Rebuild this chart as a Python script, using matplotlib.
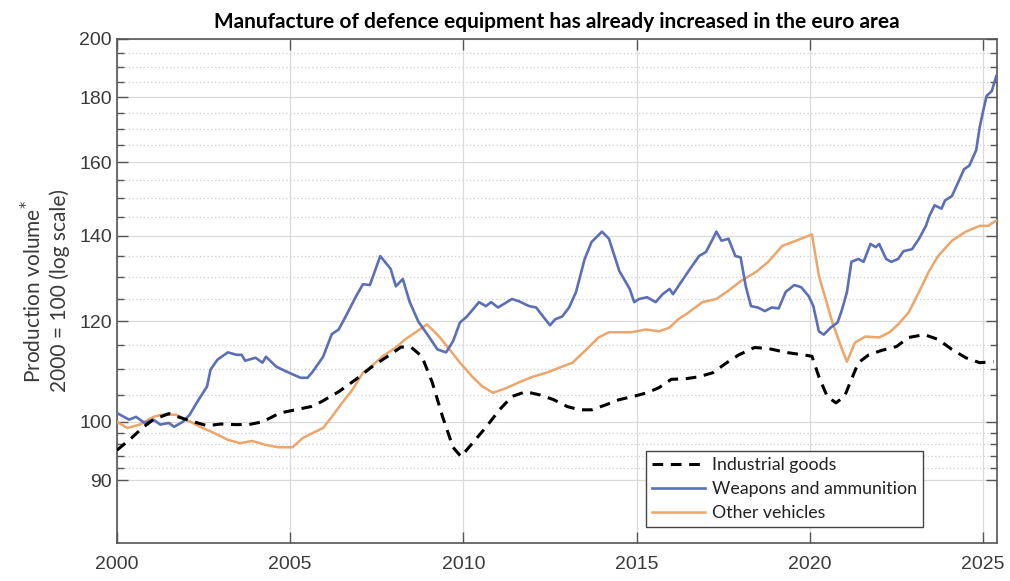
import numpy as np
import matplotlib
matplotlib.use("Agg")
import matplotlib.pyplot as plt
from matplotlib.ticker import FixedLocator, NullFormatter, FixedFormatter

# --- data (index, 2000 = 100) ---
ind_year = [2000.0, 2000.4, 2000.75, 2001.05, 2001.5, 2002.0, 2002.6, 2003.0, 2003.4, 2003.8,
            2004.2, 2004.7, 2005.0, 2005.6, 2005.9, 2006.4, 2006.9, 2007.4, 2007.9, 2008.2,
            2008.5, 2008.8, 2009.1, 2009.4, 2009.7, 2009.93, 2010.26, 2010.66, 2011.04, 2011.4,
            2011.8, 2012.2, 2012.6, 2013.0, 2013.35, 2013.7, 2014.1, 2014.5, 2014.9, 2015.3,
            2015.65, 2016.0, 2016.4, 2016.8, 2017.2, 2017.6, 2017.95, 2018.4, 2018.8, 2019.3,
            2019.8, 2020.06, 2020.26, 2020.5, 2020.75, 2021.0, 2021.2, 2021.4, 2021.7, 2022.07,
            2022.5, 2022.85, 2023.3, 2023.7, 2024.1, 2024.5, 2024.9, 2025.3]
ind_value = [95.0, 97.0, 99.0, 100.4, 101.5, 100.4, 99.3, 99.6, 99.5, 99.5,
             100.0, 101.6, 102.0, 102.8, 103.7, 105.6, 108.0, 110.7, 113.0, 114.5,
             114.4, 112.6, 107.4, 100.9, 95.5, 93.9, 96.2, 99.1, 102.2, 104.7,
             105.6, 105.0, 104.1, 102.8, 102.2, 102.2, 103.1, 104.1, 104.7, 105.4,
             106.4, 108.0, 108.1, 108.5, 109.3, 111.3, 112.9, 114.4, 114.2, 113.4,
             112.9, 112.6, 108.5, 104.7, 103.5, 104.7, 108.0, 111.3, 112.9, 113.8,
             114.6, 116.5, 117.1, 116.1, 114.0, 112.3, 111.3, 111.5]

wpn_year = [2000.0, 2000.35, 2000.55, 2000.8, 2001.05, 2001.25, 2001.5, 2001.65, 2001.9, 2002.1,
            2002.3, 2002.6, 2002.7, 2002.9, 2003.2, 2003.45, 2003.6, 2003.7, 2004.0, 2004.2,
            2004.3, 2004.6, 2004.9, 2005.3, 2005.5, 2005.65, 2005.95, 2006.2, 2006.4, 2006.6,
            2006.9, 2007.1, 2007.3, 2007.6, 2007.9, 2008.05, 2008.25, 2008.45, 2008.7, 2009.0,
            2009.25, 2009.5, 2009.7, 2009.9, 2010.1, 2010.45, 2010.65, 2010.8, 2011.0, 2011.4,
            2011.6, 2011.9, 2012.1, 2012.3, 2012.5, 2012.65, 2012.85, 2013.05, 2013.25, 2013.5,
            2013.7, 2014.0, 2014.2, 2014.5, 2014.8, 2014.93, 2015.07, 2015.3, 2015.55, 2015.75,
            2015.95, 2016.05, 2016.3, 2016.5, 2016.8, 2017.0, 2017.2, 2017.3, 2017.45, 2017.65,
            2017.85, 2018.0, 2018.15, 2018.3, 2018.5, 2018.7, 2018.9, 2019.1, 2019.3, 2019.55,
            2019.75, 2019.97, 2020.1, 2020.26, 2020.4, 2020.6, 2020.8, 2020.93, 2021.07, 2021.2,
            2021.4, 2021.55, 2021.75, 2021.9, 2022.0, 2022.2, 2022.35, 2022.55, 2022.7, 2022.95,
            2023.15, 2023.35, 2023.45, 2023.6, 2023.8, 2023.9, 2024.1, 2024.3, 2024.45, 2024.6,
            2024.8, 2024.9, 2025.0, 2025.1, 2025.25, 2025.38]
wpn_value = [101.6, 100.4, 100.9, 99.8, 100.4, 99.5, 99.8, 99.1, 100.0, 101.3,
             103.5, 106.6, 109.9, 111.9, 113.4, 112.9, 112.9, 111.7, 112.3, 111.3,
             112.5, 110.5, 109.5, 108.3, 108.3, 109.5, 112.5, 117.2, 118.2, 121.0,
             125.5, 128.3, 128.1, 135.0, 131.9, 127.8, 129.5, 124.2, 119.9, 116.7,
             114.0, 113.4, 115.7, 119.7, 121.0, 124.2, 123.3, 124.2, 123.0, 124.9,
             124.4, 123.3, 123.0, 121.0, 119.1, 120.4, 121.0, 123.0, 126.5, 134.3,
             138.5, 141.1, 139.3, 131.4, 127.2, 124.2, 124.9, 125.3, 124.2, 126.0,
             127.2, 126.0, 129.0, 131.4, 135.0, 136.0, 139.3, 141.1, 138.8, 139.3,
             135.0, 134.7, 127.8, 123.3, 123.0, 122.2, 123.0, 122.8, 126.5, 128.1,
             127.6, 125.5, 123.3, 117.8, 117.1, 118.6, 119.7, 122.6, 126.5, 133.6,
             134.3, 133.6, 138.0, 137.2, 138.0, 134.3, 133.6, 134.3, 136.2, 136.7,
             139.3, 142.6, 145.2, 148.0, 147.1, 149.3, 150.5, 154.7, 158.0, 159.0,
             163.5, 170.4, 175.5, 180.4, 182.0, 187.0]

veh_year = [2000.0, 2000.3, 2000.66, 2001.05, 2001.3, 2001.7, 2002.0, 2002.4, 2002.8, 2003.2,
            2003.55, 2003.9, 2004.3, 2004.65, 2005.07, 2005.36, 2005.65, 2005.95, 2006.2, 2006.5,
            2006.8, 2007.1, 2007.4, 2007.65, 2008.05, 2008.3, 2008.6, 2008.95, 2009.3, 2009.6,
            2009.9, 2010.26, 2010.55, 2010.85, 2011.2, 2011.6, 2012.0, 2012.4, 2012.77, 2013.15,
            2013.55, 2013.9, 2014.2, 2014.5, 2014.85, 2015.27, 2015.65, 2015.95, 2016.2, 2016.5,
            2016.9, 2017.3, 2017.65, 2018.0, 2018.45, 2018.8, 2019.2, 2019.6, 2020.06, 2020.26,
            2020.65, 2020.93, 2021.07, 2021.3, 2021.6, 2022.0, 2022.3, 2022.55, 2022.85, 2023.15,
            2023.43, 2023.7, 2024.1, 2024.5, 2024.9, 2025.15, 2025.37]
veh_value = [100.0, 98.9, 99.5, 100.9, 101.3, 101.3, 100.4, 99.1, 98.0, 96.8,
             96.2, 96.6, 95.9, 95.5, 95.5, 97.1, 98.0, 98.9, 100.9, 103.5,
             106.0, 109.3, 110.9, 112.5, 114.4, 116.0, 117.5, 119.3, 116.7, 114.0,
             111.3, 108.5, 106.6, 105.4, 106.2, 107.4, 108.5, 109.3, 110.3, 111.3,
             114.0, 116.5, 117.6, 117.6, 117.6, 118.2, 117.8, 118.6, 120.4, 121.9,
             124.2, 124.9, 126.8, 129.0, 131.2, 133.6, 137.5, 138.8, 140.4, 130.3,
             119.7, 114.0, 111.5, 115.4, 116.7, 116.5, 117.6, 119.3, 121.9, 126.5,
             131.2, 135.0, 138.8, 141.1, 142.6, 142.6, 143.9]

y_major = [90, 100, 120, 140, 160, 180, 200]
y_minor = [92, 94, 96, 98, 105, 110, 115, 125, 130, 135, 145, 150, 155,
           165, 170, 175, 185, 190, 195]
x_ticks = [2000, 2005, 2010, 2015, 2020, 2025]

TXT = "#3a3a3a"
plt.rcParams.update({"font.family": ["Liberation Sans", "DejaVu Sans"]})

fig = plt.figure(figsize=(10.1, 5.81), dpi=100)
ax = fig.add_axes([0.1158, 0.0654, 0.8713, 0.8675])
ax.set_yscale("log")

ax.plot(veh_year, veh_value, color="#eda56a", lw=1.8, label="Other vehicles", zorder=3)
ax.plot(wpn_year, wpn_value, color="#5b6fb7", lw=1.9, label="Weapons and ammunition", zorder=4)
ax.plot(ind_year, ind_value, color="black", lw=2.2, ls=(0, (3.5, 2.5)), label="Industrial goods", zorder=5)

ax.set_xlim(2000, 2025.4)
ax.set_ylim(80.3, 200)
ax.yaxis.set_major_locator(FixedLocator(y_major))
ax.yaxis.set_major_formatter(FixedFormatter([str(v) for v in y_major]))
ax.yaxis.set_minor_locator(FixedLocator(y_minor))
ax.yaxis.set_minor_formatter(NullFormatter())
ax.set_xticks(x_ticks)
ax.set_xticklabels([str(x) for x in x_ticks])

ax.grid(True, which="major", color="#dadada", lw=0.9, ls="-", zorder=0)
ax.grid(True, which="minor", axis="y", color="#cfcfcf", lw=0.9, ls=(0, (1, 2)), zorder=0)
ax.set_axisbelow(True)

ax.tick_params(which="both", direction="in", top=True, right=True, colors="#555555",
               labelcolor=TXT, labelsize=14)
ax.tick_params(which="major", length=8, width=1.0)
ax.tick_params(which="minor", length=5, width=1.0)
ax.tick_params(axis="x", pad=9)
for s in ax.spines.values():
    s.set_color("#555555")
    s.set_linewidth(1.2)

ax.set_title("Manufacture of defence equipment has already increased in the euro area",
             fontsize=15, fontweight="bold", family=["Lato", "DejaVu Sans"], pad=8)
ax.set_ylabel("Production volume$^{*}$\n2000 = 100 (log scale)", fontsize=15,
              color=TXT, family=["Lato", "DejaVu Sans"], labelpad=7, linespacing=1.25)

h, l = ax.get_legend_handles_labels()
order = [2, 1, 0]
leg = ax.legend([h[i] for i in order], [l[i] for i in order], loc="lower left",
                bbox_to_anchor=(0.591, 0.014), fancybox=False, framealpha=1,
                edgecolor="#444444", handlelength=3.0, handletextpad=0.35,
                borderpad=0.35, labelspacing=0.45,
                prop={"family": ["Lato", "DejaVu Sans"], "size": 12.8})
leg.get_frame().set_linewidth(1.0)
for t in leg.get_texts():
    t.set_color("#222222")

fig.savefig("out.png", dpi=100)
